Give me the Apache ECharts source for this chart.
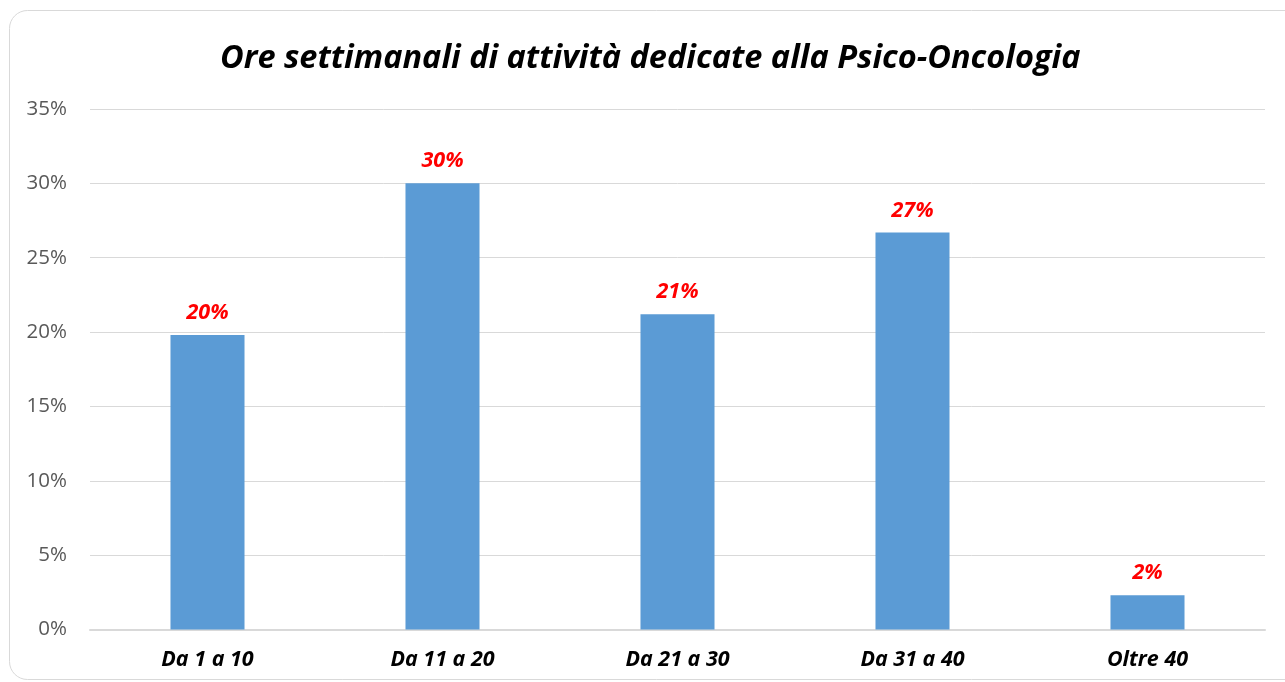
<!DOCTYPE html>
<html><head><meta charset="utf-8">
<script src="https://cdn.jsdelivr.net/npm/echarts@6/dist/echarts.min.js"></script>
<style>html,body{margin:0;padding:0;background:#fff}#c{width:1285px;height:682px}</style>
</head><body><div id="c"></div>
<script>
const titleText = 'Ore settimanali di attività dedicate alla Psico-Oncologia';
const categories = ['Da 1 a 10', 'Da 11 a 20', 'Da 21 a 30', 'Da 31 a 40', 'Oltre 40'];
const values = [19.8, 30.0, 21.2, 26.7, 2.3];
const yTicks = [0, 5, 10, 15, 20, 25, 30, 35];

const chart = echarts.init(document.getElementById('c'), null, {renderer: 'canvas'});
chart.setOption({
  animation: false,
  backgroundColor: '#fff',
  graphic: [{
    type: 'rect', shape: {x: 9.5, y: 10.5, width: 1300, height: 669, r: 18},
    style: {fill: 'none', stroke: '#d9d9d9', lineWidth: 1}, z: -1
  }],
  title: {
    text: titleText, left: 215, top: 37,
    textStyle: {fontFamily: 'Open Sans', fontStyle: 'italic', fontWeight: 'bold', fontSize: 32.5, color: '#000'}
  },
  grid: {left: 90, right: 20, top: 109, bottom: 52.5, containLabel: false},
  xAxis: {
    type: 'category', data: categories,
    axisLine: {lineStyle: {color: '#d9d9d9', width: 2}},
    axisTick: {show: false},
    axisLabel: {margin: 19, fontFamily: 'Open Sans', fontStyle: 'italic', fontWeight: 'bold', fontSize: 21.5, color: '#000'}
  },
  yAxis: {
    type: 'value', min: 0, max: 35, interval: 5,
    axisLine: {show: false}, axisTick: {show: false},
    splitLine: {lineStyle: {color: '#d9d9d9', width: 1}},
    axisLabel: {margin: 23, fontFamily: 'Open Sans', fontSize: 20.5, color: '#595959',
      formatter: v => yTicks.includes(v) ? v + '%' : ''}
  },
  series: [{
    type: 'bar', data: values, barWidth: '31.5%',
    itemStyle: {color: '#5b9bd5'},
    label: {show: true, position: 'top', distance: 11,
      formatter: p => Math.round(p.value) + '%',
      fontFamily: 'Open Sans', fontStyle: 'italic', fontWeight: 'bold', fontSize: 21.5, color: '#ff0000'}
  }]
});
</script></body></html>
